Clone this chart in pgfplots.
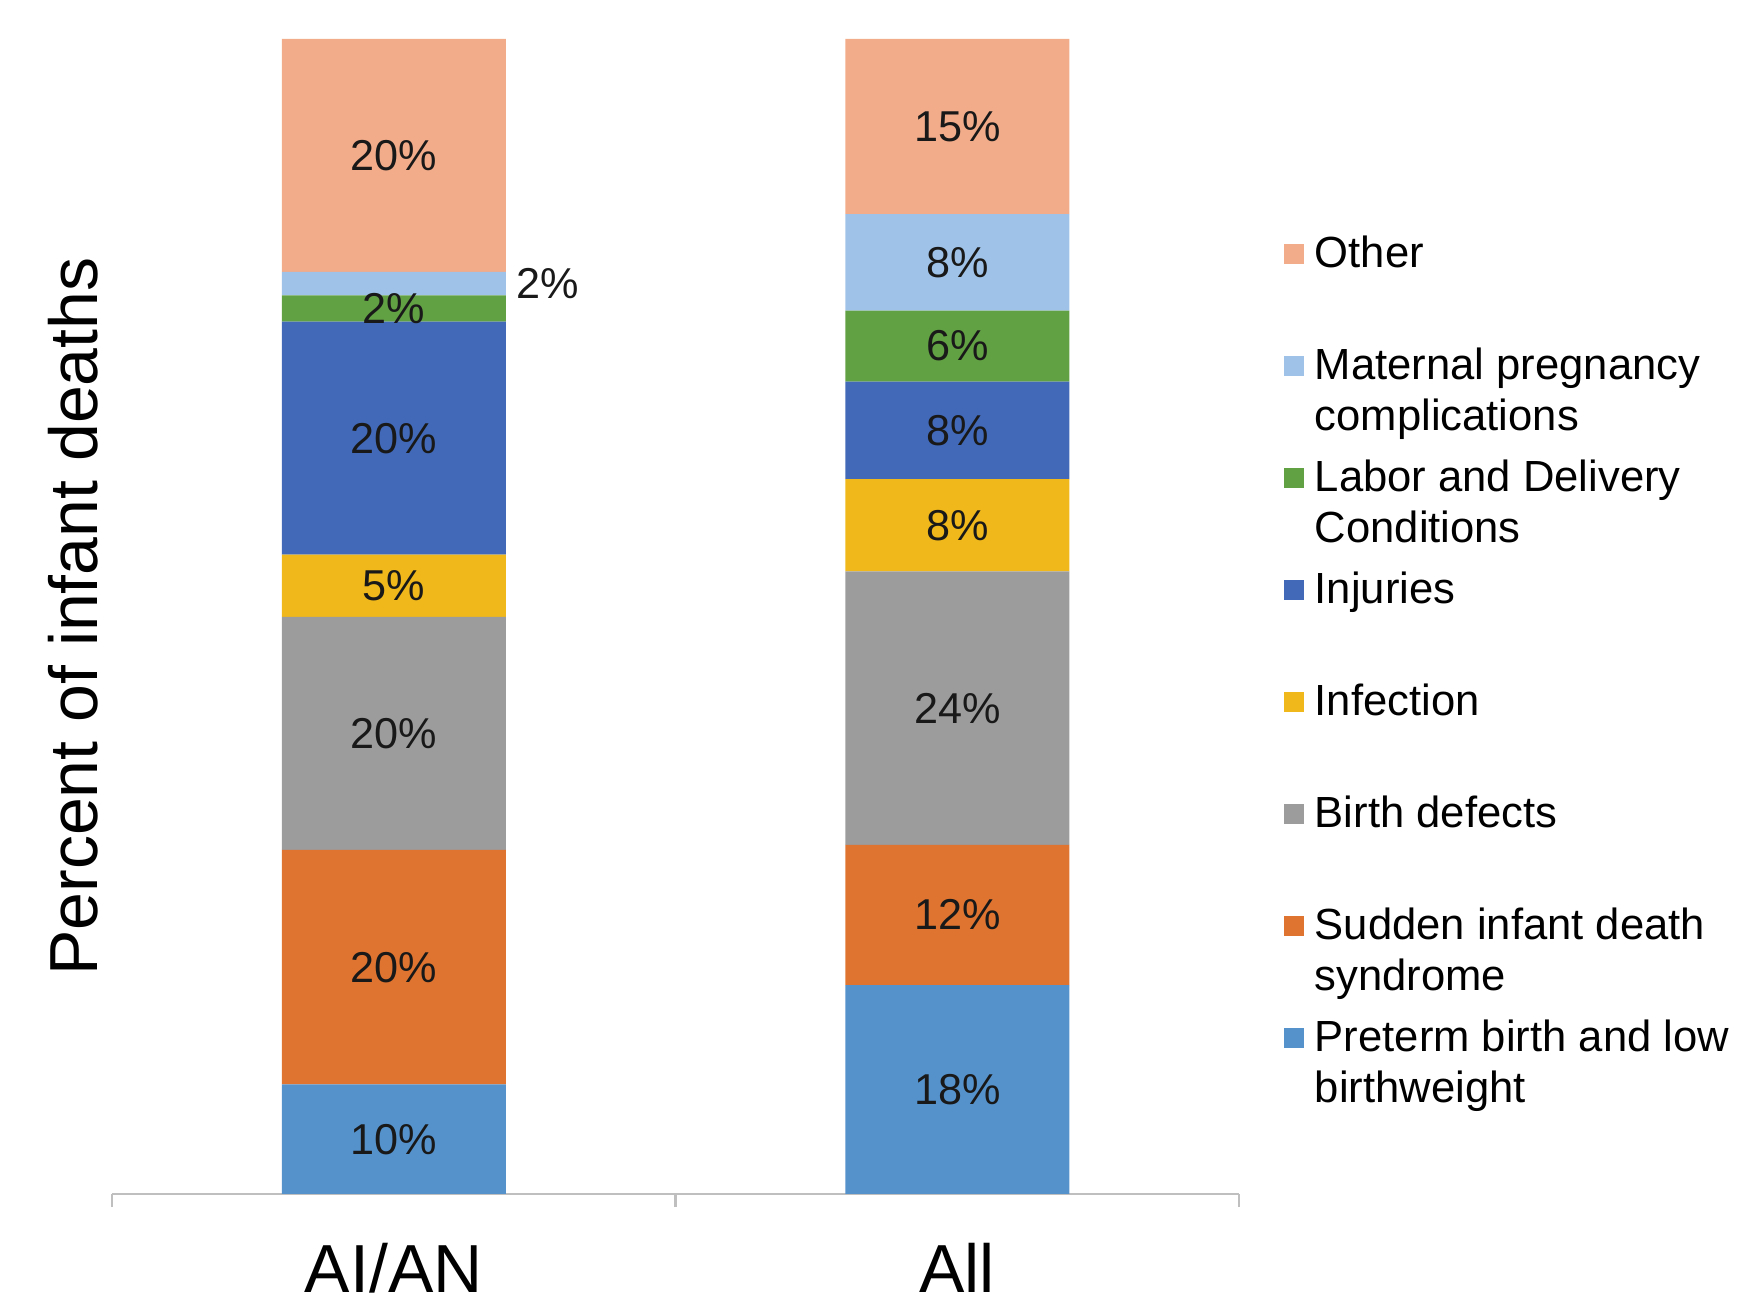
\documentclass[border=0pt]{standalone}
\usepackage{fontspec}
\setmainfont{Liberation Sans}
\usepackage{pgfplots}
\usepackage{pgfplotstable}
\pgfplotsset{compat=1.18}

\definecolor{cPre}{HTML}{5592CC}
\definecolor{cSids}{HTML}{DF7430}
\definecolor{cBd}{HTML}{9C9C9C}
\definecolor{cInf}{HTML}{F0B81A}
\definecolor{cInj}{HTML}{4169B8}
\definecolor{cLab}{HTML}{62A044}
\definecolor{cMat}{HTML}{9FC3E8}
\definecolor{cOth}{HTML}{F3AC8A}
\definecolor{axgray}{HTML}{BFBFBF}

% segment heights (percent of bar) and the rounded labels
\pgfplotstableread{
x pre   sids  bd    inf  inj   lab  mat  oth   Lpre Lsids Lbd Linf Linj Llab Lmat Loth dmat zero
0 9.48  20.32 20.17 5.38 20.17 2.27 2.04 20.17 10   20    20  5    20   2    2    20   38.6 0
1 18.09 12.14 23.68 7.99 8.43  6.16 8.34 15.17 18   12    24  8    8    6    8    15   0    0
}\deaths

% #1 value column, #2 label column, #3 colour, #4 legend text, #5 x offset column
\newcommand{\segment}[5]{%
  \addplot[fill=#3, draw=none,
    legend image code/.code={\fill[#3] (0pt,-2.5pt) rectangle (5pt,2.5pt);},
    point meta=explicit symbolic,
    visualization depends on={\thisrow{#5} \as \segdx},
    nodes near coords={\pgfplotspointmeta\%},
    every node near coord/.append style={xshift=\segdx pt}]
    table[x=x, y=#1, meta=#2] {\deaths};
  \addlegendentry{#4}}

\newcommand{\lent}[1]{\raisebox{0pt}[17.5pt][10.5pt]{\begin{tabular}[t]{@{}l@{}}#1\end{tabular}}}

\begin{document}
\begin{tikzpicture}
\path[use as bounding box] (0,0) rectangle (439.5pt,325.25pt);
\begin{axis}[
  at={(28pt,26.75pt)}, anchor=south west,
  scale only axis, width=281.75pt, height=288.75pt,
  ybar stacked, bar width=56pt,
  xmin=-0.5, xmax=1.5, ymin=0, ymax=100,
  enlarge y limits=false, clip=false,
  axis x line*=bottom, axis y line=none,
  axis line style={axgray, line width=0.6pt},
  xtick={0,1}, xticklabels={AI/AN,All},
  minor xtick={-0.5,0.5,1.5},
  major tick length=0pt, minor tick length=3.3pt, tick align=outside,
  minor tick style={axgray, line width=0.6pt},
  ytick=\empty,
  xticklabel style={anchor=base, yshift=-24.6pt, font=\fontsize{17}{20}\selectfont},
  nodes near coords align={anchor=center},
  every node near coord/.append style={font=\fontsize{10.8}{13}\selectfont, text=black!90, anchor=center},
  reverse legend, legend cell align=left,
  legend style={draw=none, fill=none, at={(1.0389,0.8632)}, anchor=north west,
    inner sep=0pt, row sep=0pt, column sep=2.8pt,
    nodes={inner sep=0pt, text depth=},
    font=\fontsize{10.9}{12.6}\selectfont},
]
\segment{pre}{Lpre}{cPre}{\lent{Preterm birth and low\\birthweight}}{zero}
\segment{sids}{Lsids}{cSids}{\lent{Sudden infant death\\syndrome}}{zero}
\segment{bd}{Lbd}{cBd}{\lent{Birth defects}}{zero}
\segment{inf}{Linf}{cInf}{\lent{Infection}}{zero}
\segment{inj}{Linj}{cInj}{\lent{Injuries}}{zero}
\segment{lab}{Llab}{cLab}{\lent{Labor and Delivery\\Conditions}}{zero}
\segment{mat}{Lmat}{cMat}{\lent{Maternal pregnancy\\complications}}{dmat}
\segment{oth}{Loth}{cOth}{\lent{Other}}{zero}
\end{axis}
\node[rotate=90, anchor=base, font=\fontsize{17}{20}\selectfont] at (24.4pt,171.1pt) {Percent of infant deaths};
\end{tikzpicture}
\end{document}
